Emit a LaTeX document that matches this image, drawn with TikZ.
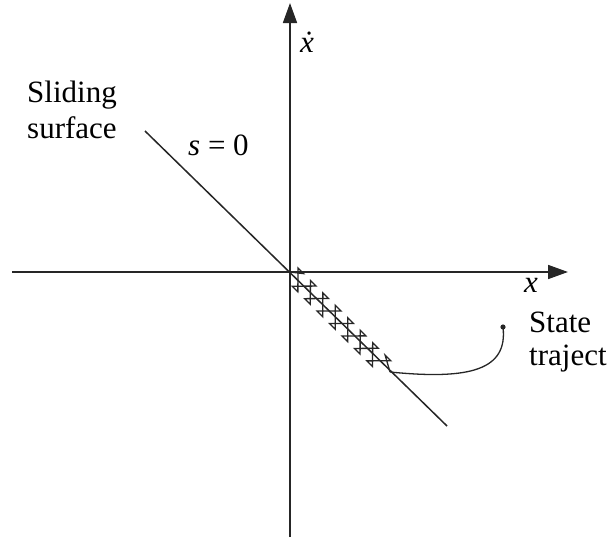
\documentclass[tikz,border=0pt]{standalone}
\usepackage{fontspec}
\setmainfont{Liberation Serif}
\usetikzlibrary{arrows.meta}
\tikzset{
  lbl/.style={inner sep=0pt, anchor=base west, font=\fontsize{31}{36}\selectfont},
  axis/.style={line width=1.7pt, black!85, -{Triangle[length=20pt,width=14pt]}},
  surf/.style={line width=1.5pt, black!85},
  traj/.style={line width=1.3pt, black!85, line join=miter},
}
\begin{document}
\begin{tikzpicture}[x=1pt,y=-1pt]
\useasboundingbox (0,0) rectangle (611,544);
% coordinates
\coordinate (xa0) at (12,272);
\coordinate (xa1) at (568,272);
\coordinate (ya0) at (290,537);
\coordinate (ya1) at (290,3);
\coordinate (s1) at (145,131);
\coordinate (s2) at (447,426);
\coordinate (O) at (290,272);
\coordinate (J) at (390,372);
\coordinate (D) at (503,327);
% axes
\draw[axis] (xa0) -- (xa1);
\draw[axis] (ya0) -- (ya1);
% sliding surface
\draw[surf] (s1) -- (s2);
% chattering
\begin{scope}[shift={(O)}, rotate=-45]
  \draw[traj] (0,0)
    \foreach \k [evaluate=\k as \s using {(-1)^\k*8.5},
                 evaluate=\k as \t using {\k*8.8+2}] in {1,...,15}
      { -- (\t,\s) -- ({\t-8},\s) }
    -- (J);
\end{scope}
% state trajectory
\draw[traj] (J) .. controls (470,380) and (508,370) .. (D);
\fill[black!85] (D) circle[radius=2.6pt];
% labels
\node[lbl] (xd) at (300,52) {\textit{\.x}};
\node[lbl] (xl) at (524,292) {\textit{x}};
\node[lbl] (sl1) at (27,102) {Sliding};
\node[lbl] (sl2) at (27,138) {surface};
\node[lbl] (s0) at (188,155) {\textit{s} = 0};
\node[lbl] (st1) at (529,332) {State};
\node[lbl] (st2) at (529,365) {traject};
\end{tikzpicture}
\end{document}
